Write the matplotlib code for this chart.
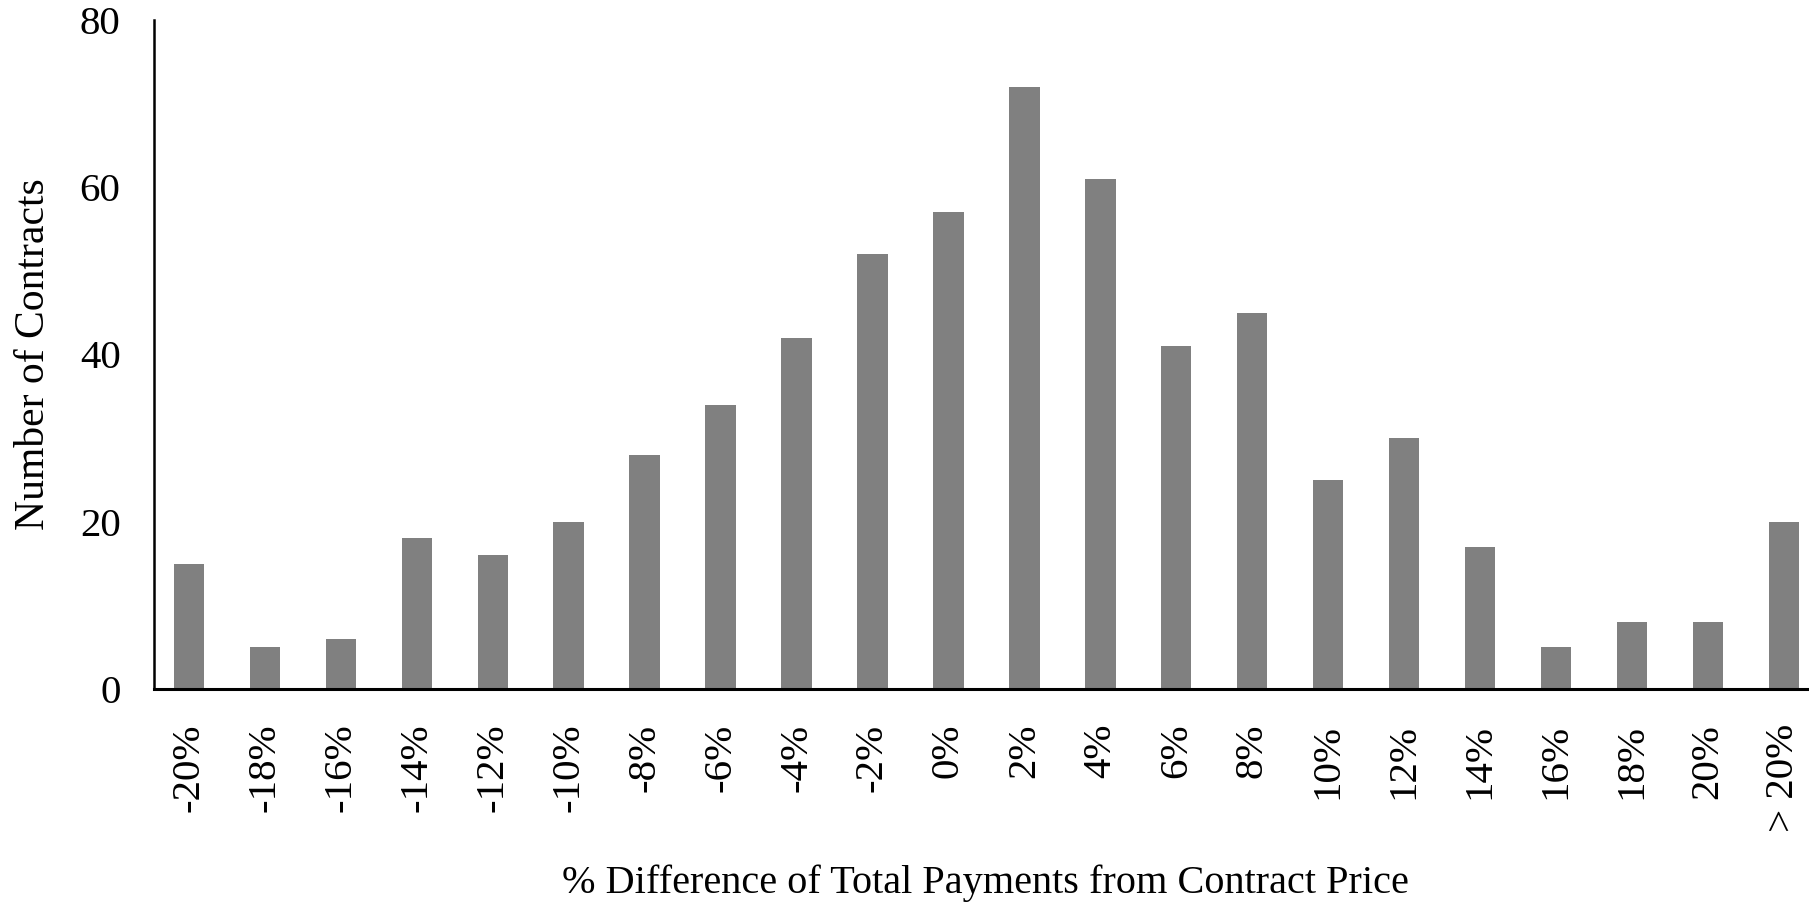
import matplotlib
matplotlib.use("Agg")
import matplotlib.pyplot as plt
import numpy as np

# contracts per bin of payment difference
bins = ["-20%", "-18%", "-16%", "-14%", "-12%", "-10%", "-8%", "-6%", "-4%",
        "-2%", "0%", "2%", "4%", "6%", "8%", "10%", "12%", "14%", "16%",
        "18%", "20%", "> 20%"]
counts = [15, 5, 6, 18, 16, 20, 28, 34, 42, 52, 57, 72, 61, 41, 45, 25, 30,
          17, 5, 8, 8, 20]

plt.rcParams['font.family'] = ['Liberation Serif', 'DejaVu Serif']

fig = plt.figure(figsize=(18.09, 9.06), dpi=100)
ax = fig.add_axes([0.0851, 0.2395, 0.9149, 0.7385])

x = np.arange(len(bins))
ax.bar(x, counts, width=0.4, color='#808080', zorder=2)

ax.set_xlim(-0.46, len(bins) - 1 + 0.33)
ax.set_ylim(0, 80)
ax.set_yticks([0, 20, 40, 60, 80])
ax.set_xticks(x)
ax.set_xticklabels(bins, rotation=90)

ax.tick_params(axis='both', length=0, labelsize=29.5)
ax.tick_params(axis='y', pad=24)
ax.tick_params(axis='x', pad=25)

for side in ('top', 'right'):
    ax.spines[side].set_visible(False)
ax.spines['left'].set_linewidth(1.8)
ax.spines['bottom'].set_linewidth(2.2)

ax.set_ylabel('Number of Contracts', fontsize=30, labelpad=19)
fig.text(0.545, 0.025, '% Difference of Total Payments from Contract Price',
         fontsize=29, ha='center', va='center')

fig.savefig('out.png', dpi=100)
